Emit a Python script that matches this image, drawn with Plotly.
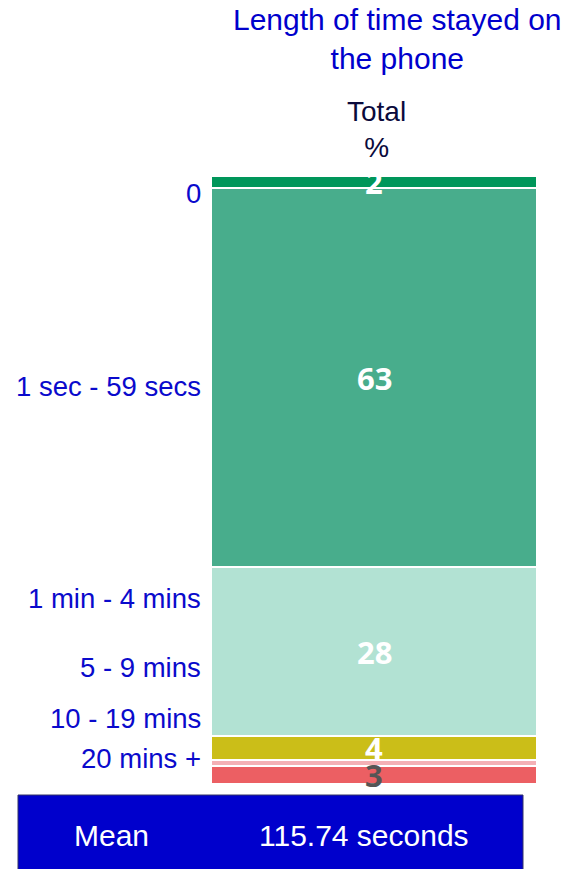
import plotly.graph_objects as go

categories = ["0", "1 sec - 59 secs", "1 min - 4 mins", "5 - 9 mins", "10 - 19 mins", "20 mins +"]
values = [2, 63, 28, 4, 1, 3]
value_labels = ["2", "63", "28", "4", "", "3"]
colors = ["#00965a", "#48ad8c", "#b2e2d3", "#cbbe18", "#f4b0b5", "#ec5f63"]
label_colors = ["white", "white", "white", "white", "white", "#555555"]
bar_name = "Total<br>%"
mean_label = "Mean"
mean_value = "115.74 seconds"
title_text = "Length of time stayed on<br>the phone"

W, H = 566, 869
L, R, T, B = 211, 29, 176, 85
PW, PH = W - L - R, H - T - B


def px(x):
    return (x - L) / PW


def py(y):
    return (H - B - y) / PH


fig = go.Figure()
for cat, v, c in zip(categories, values, colors):
    fig.add_trace(go.Bar(
        x=[bar_name], y=[v], name=cat, marker=dict(color=c, line=dict(color="white", width=2)),
        hoverinfo="name+y",
    ))

annotations = []
total = sum(values)
cum = 0
for v, lab, lc in zip(values, value_labels, label_colors):
    mid = cum + v / 2
    cum += v
    if lab:
        annotations.append(dict(x=bar_name, y=mid, xref="x", yref="y", text="<b>%s</b>" % lab,
                                showarrow=False, font=dict(size=31, color=lc, family="Open Sans")))

# category labels on the left
label_y = [193, 386, 598, 667, 718, 758]
for cat, yy in zip(categories, label_y):
    annotations.append(dict(x=px(203), y=py(yy), xref="paper", yref="paper", text=cat,
                            xanchor="right", yanchor="middle", showarrow=False,
                            font=dict(size=27.5, color="#0a0acc", family="Liberation Sans")))

# title
annotations.append(dict(x=px(397), y=py(39), xref="paper", yref="paper", text=title_text,
                        xanchor="center", yanchor="middle", showarrow=False,
                        font=dict(size=30, color="#0000cc", family="Liberation Sans")))
# column header
annotations.append(dict(x=px(376), y=py(129), xref="paper", yref="paper", text=bar_name,
                        xanchor="center", yanchor="middle", showarrow=False,
                        font=dict(size=28, color="#0a0a3c", family="Liberation Sans")))
# mean box text
annotations.append(dict(x=px(111), y=py(835), xref="paper", yref="paper", text=mean_label,
                        xanchor="center", yanchor="middle", showarrow=False,
                        font=dict(size=30, color="white", family="Liberation Sans")))
annotations.append(dict(x=px(364), y=py(835), xref="paper", yref="paper", text=mean_value,
                        xanchor="center", yanchor="middle", showarrow=False,
                        font=dict(size=30, color="white", family="Liberation Sans")))

shapes = [dict(type="rect", xref="paper", yref="paper", x0=px(18), x1=px(523), y0=py(880), y1=py(795),
               fillcolor="#0000cc", line=dict(color="#333366", width=1), layer="below")]

fig.update_layout(
    width=W, height=H, margin=dict(l=L, r=R, t=T, b=B),
    barmode="stack", bargap=0, showlegend=False,
    plot_bgcolor="white", paper_bgcolor="white",
    xaxis=dict(visible=False),
    yaxis=dict(visible=False, range=[total, 0]),
    annotations=annotations, shapes=shapes,
)

fig.write_html("out.html")
